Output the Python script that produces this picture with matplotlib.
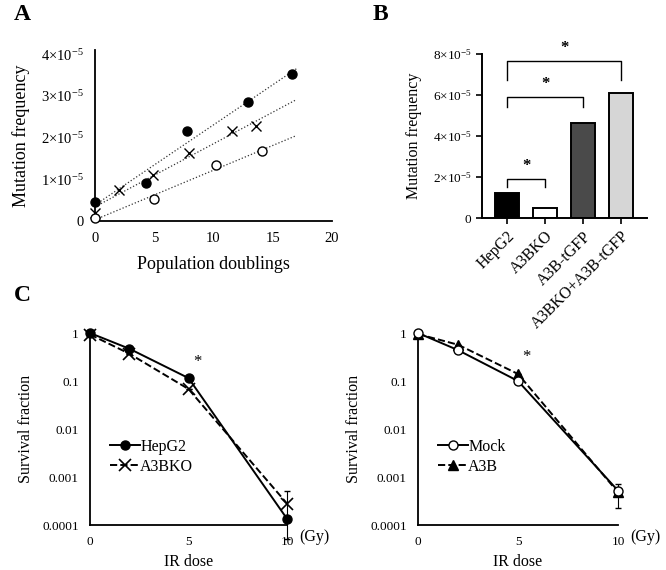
import numpy as np
import matplotlib
matplotlib.use("Agg")
import matplotlib.pyplot as plt
from matplotlib.ticker import FuncFormatter

plt.rcParams['font.family'] = ['Liberation Serif', 'DejaVu Serif']
plt.rcParams['mathtext.fontset'] = 'custom'
plt.rcParams['mathtext.rm'] = 'Liberation Serif'
plt.rcParams['mathtext.it'] = 'Liberation Serif:italic'

# ---- panel A data: mutation frequency vs population doublings ----
pd_filled = [0, 4.3, 7.8, 12.9, 16.6]
mf_filled = [0.45e-5, 0.92e-5, 2.16e-5, 2.86e-5, 3.52e-5]
pd_cross = [0, 2.0, 4.9, 7.9, 11.6, 13.6]
mf_cross = [0.2e-5, 0.74e-5, 1.1e-5, 1.62e-5, 2.16e-5, 2.27e-5]
pd_open = [0, 5.0, 10.2, 14.1]
mf_open = [0.07e-5, 0.52e-5, 1.34e-5, 1.67e-5]

# ---- panel B data ----
cells = ['HepG2', 'A3BKO', 'A3B-tGFP', 'A3BKO+A3B-tGFP']
mut_freq = [1.23e-5, 0.49e-5, 4.63e-5, 6.11e-5]
bar_colors = ['black', 'white', '#4a4a4a', '#d6d6d6']

# ---- panel C data ----
dose = [0, 2, 5, 10]
hepg2 = [1.0, 0.47, 0.115, 0.000135]
a3bko = [0.93, 0.37, 0.068, 0.00028]
a3bko_err = [0, 0, 0, 0.00023]
mock = [1.0, 0.44, 0.10, 0.00052]
a3b = [0.95, 0.57, 0.14, 0.00048]
a3b_err = [0, 0, 0, 0.00025]


def sci_fmt(v, pos):
    if abs(v) < 1e-12:
        return '0'
    m = v / 1e-5
    return r'$%d{\times}10^{-5}$' % round(m)


W, H = 666, 570
fig = plt.figure(figsize=(W / 100, H / 100), dpi=100)


def box(l, t, r, b):
    return [l / W, 1 - b / H, (r - l) / W, (b - t) / H]


########## A ##########
axA = fig.add_axes(box(95, 50, 332, 221))
xfit = np.array([0, 17])
for xs, ys in [(pd_filled, mf_filled), (pd_cross, mf_cross), (pd_open, mf_open)]:
    k, c = np.polyfit(xs, ys, 1)
    axA.plot(xfit, k * xfit + c, ':', color='#333333', lw=0.9)
axA.plot(pd_filled, mf_filled, 'o', color='black', ms=6.5, clip_on=False, zorder=3)
axA.plot(pd_cross, mf_cross, 'x', color='black', ms=7, mew=1.0, clip_on=False, zorder=3)
axA.plot(pd_open, mf_open, 'o', mfc='white', mec='black', ms=6.5, mew=1.0, clip_on=False, zorder=3)
axA.set_xlim(0, 20)
axA.set_ylim(0, 4.1e-5)
axA.set_xticks([0, 5, 10, 15, 20])
axA.set_yticks([0, 1e-5, 2e-5, 3e-5, 4e-5])
axA.yaxis.set_major_formatter(FuncFormatter(sci_fmt))
axA.tick_params(length=0, labelsize=10.5, pad=8)
axA.spines[['top', 'right']].set_visible(False)
axA.spines[['left', 'bottom']].set_linewidth(1.3)
axA.set_xlabel('Population doublings', fontsize=13, labelpad=8)
axA.set_ylabel('Mutation frequency', fontsize=13, labelpad=8)

########## B ##########
axB = fig.add_axes(box(482, 54, 647, 218))
xb = np.arange(len(cells))
axB.bar(xb, mut_freq, width=0.63, color=bar_colors, edgecolor='black', linewidth=1.4)
axB.set_xlim(-0.66, 3.68)
axB.set_ylim(0, 8e-5)
axB.set_yticks([0, 2e-5, 4e-5, 6e-5, 8e-5])
axB.yaxis.set_major_formatter(FuncFormatter(sci_fmt))
axB.set_xticks(xb)
axB.set_xticklabels(cells, rotation=45, ha='right', rotation_mode='anchor', fontsize=11.5)
axB.tick_params(axis='y', labelsize=9.5, length=4, width=1.2)
axB.tick_params(axis='x', length=4, width=1.2)
axB.spines[['top', 'right']].set_visible(False)
axB.spines[['left', 'bottom']].set_linewidth(1.4)
axB.set_ylabel('Mutation frequency', fontsize=11.5, labelpad=8)
brackets = [(0, 1, 1.9e-5, 1.5e-5), (0, 2, 5.92e-5, 5.43e-5), (0, 3, 7.67e-5, 6.73e-5)]
for a, b, top, foot in brackets:
    axB.plot([a, a, b, b], [foot, top, top, foot], color='black', lw=1.0, clip_on=False)
    axB.text((a + b) / 2, top + 0.25e-5, '*', ha='center', va='bottom', fontsize=12, fontweight='bold')


########## C ##########
def survival_axes(l, r):
    ax = fig.add_axes(box(l, 333, r, 525))
    ax.set_yscale('log')
    ax.set_ylim(1e-4, 1)
    ax.set_xlim(0, 10)
    ax.set_yticks([1e-4, 1e-3, 1e-2, 1e-1, 1])
    ax.set_yticklabels(['0.0001', '0.001', '0.01', '0.1', '1'])
    ax.minorticks_off()
    ax.set_xticks([0, 5, 10])
    ax.tick_params(length=0, labelsize=9.5, pad=8)
    ax.spines[['top', 'right']].set_visible(False)
    ax.spines[['left', 'bottom']].set_linewidth(1.3)
    ax.set_xlabel('IR dose', fontsize=11.5, labelpad=4)
    ax.set_ylabel('Survival fraction', fontsize=11.5, labelpad=6)
    ax.text(1.06, -0.06, '(Gy)', transform=ax.transAxes, fontsize=11.5, va='center', ha='left')
    return ax


def legend_rows(ax):
    ax.legend(loc='upper left', bbox_to_anchor=(0.06, 0.49), frameon=False,
              fontsize=11.5, handlelength=1.9, handletextpad=0.0, labelspacing=0.25, borderpad=0)


axC1 = survival_axes(90, 287)
axC1.errorbar(dose, a3bko, yerr=a3bko_err, fmt='none', ecolor='black', elinewidth=0.8, capsize=2,
              clip_on=False)
axC1.plot(dose, hepg2, '-o', color='black', lw=1.4, ms=6.5, clip_on=False, label='HepG2', zorder=4)
axC1.plot(dose, a3bko, '--x', color='black', lw=1.4, ms=8, mew=1.2, clip_on=False, label='A3BKO', zorder=3)
legend_rows(axC1)
axC1.text(5.25, 0.17, '*', fontsize=12, ha='left', va='bottom')

axC2 = survival_axes(418, 618)
axC2.errorbar(dose, a3b, yerr=a3b_err, fmt='none', ecolor='black', elinewidth=0.8, capsize=2,
              clip_on=False)
axC2.plot(dose, mock, '-o', color='black', mfc='white', lw=1.4, ms=6.5, mew=1.0, clip_on=False,
          label='Mock', zorder=4)
axC2.plot(dose, a3b, '--^', color='black', lw=1.4, ms=6.5, clip_on=False, label='A3B', zorder=3)
legend_rows(axC2)
axC2.text(5.2, 0.22, '*', fontsize=12, ha='left', va='bottom')

########## panel letters ##########
for letter, x, y in [('A', 22, 15), ('B', 380, 15), ('C', 22, 296)]:
    fig.text(x / W, 1 - y / H, letter, fontsize=17, fontweight='bold', ha='center', va='center')

fig.savefig('out.png', dpi=100)
